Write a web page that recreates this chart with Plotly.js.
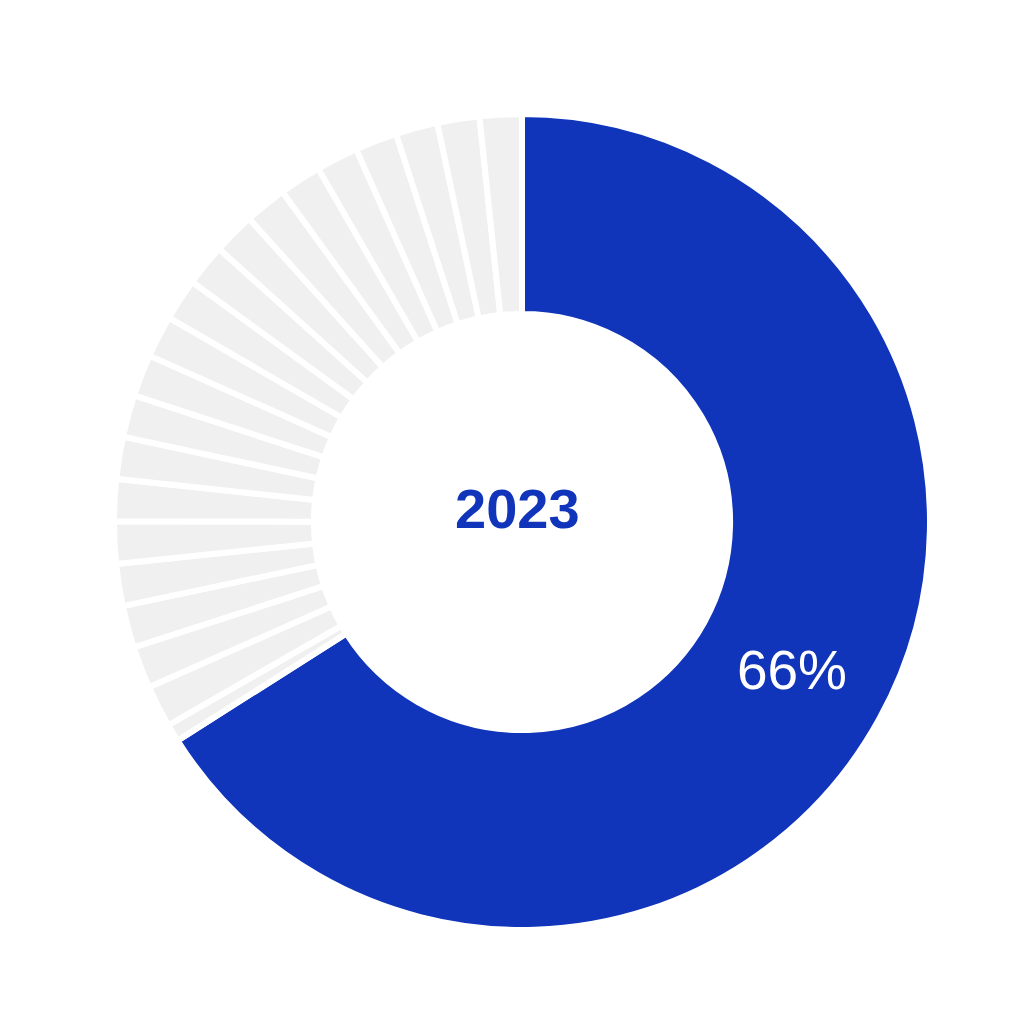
<!DOCTYPE html>
<html>
<head>
<meta charset="utf-8">
<script src="https://cdn.plot.ly/plotly-3.0.1.min.js"></script>
<style>
  html, body { margin: 0; padding: 0; background: #ffffff; }
  #chart { width: 1023px; height: 1023px; }
</style>
</head>
<body>
<div id="chart"></div>
<script>
// share of the year, first slice is the highlighted one, the rest go round clockwise
const labels = ['Main', 'Other 1', 'Other 2', 'Other 3', 'Other 4', 'Other 5', 'Other 6', 'Other 7',
    'Other 8', 'Other 9', 'Other 10', 'Other 11', 'Other 12', 'Other 13', 'Other 14', 'Other 15',
    'Other 16', 'Other 17', 'Other 18', 'Other 19', 'Other 20', 'Other 21'];
const values = [66, 0.7, 1.665, 1.665, 1.665, 1.665, 1.665, 1.665, 1.665, 1.665, 1.665, 1.665,
    1.665, 1.665, 1.665, 1.665, 1.665, 1.665, 1.665, 1.665, 1.665, 1.665];
const sliceText = ['66%'];
const centerLabel = '2023';

const blue = '#1034BA';
const grey = '#F0F0F0';

let colors = labels.map((l, i) => i == 0 ? blue : grey);
let texts = labels.map((l, i) => sliceText[i] ?? '');

let trace = {
    type: 'pie',
    labels: labels,
    values: values,
    text: texts,
    textinfo: 'text',
    textposition: 'inside',
    insidetextorientation: 'horizontal',
    insidetextfont: { family: 'Liberation Sans, Arial, sans-serif', size: 55, color: '#ffffff' },
    hole: 0.51,
    sort: false,
    direction: 'clockwise',
    rotation: 0,
    marker: {
        colors: colors,
        line: { color: '#ffffff', width: 6 }
    },
    hoverinfo: 'label+percent',
    showlegend: false
};

let layout = {
    width: 1023,
    height: 1023,
    margin: { l: 114, r: 93, t: 114, b: 93, pad: 0 },
    paper_bgcolor: '#ffffff',
    plot_bgcolor: '#ffffff',
    showlegend: false,
    annotations: [{
        text: '<b>' + centerLabel + '</b>',
        x: 0.5,
        y: 0.5,
        xref: 'paper',
        yref: 'paper',
        showarrow: false,
        xshift: -5,
        yshift: 14,
        font: { family: 'Liberation Sans, Arial, sans-serif', size: 56, color: blue }
    }]
};

Plotly.newPlot('chart', [trace], layout, { displayModeBar: false, staticPlot: true });
</script>
</body>
</html>
